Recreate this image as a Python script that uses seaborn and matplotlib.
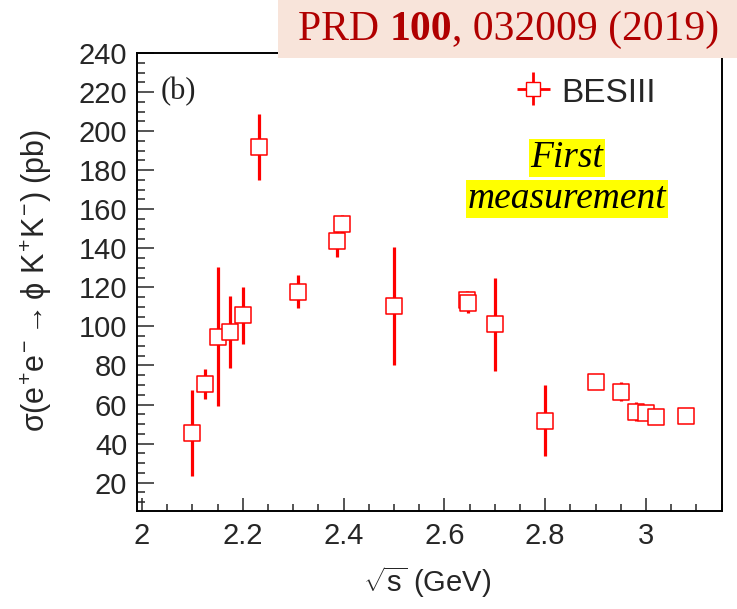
import numpy as np
import pandas as pd
import matplotlib
matplotlib.use('Agg')
import matplotlib.pyplot as plt
from matplotlib.ticker import MultipleLocator, FuncFormatter
from matplotlib.patches import Rectangle
import seaborn as sns

# -------------------------------------------------------------
# Data (sqrt(s) in GeV, cross section in pb)
# -------------------------------------------------------------
energy = [2.1000, 2.1250, 2.1500, 2.1750, 2.2000, 2.2324, 2.3094, 2.3864,
          2.3960, 2.5000, 2.6444, 2.6464, 2.7000, 2.8000, 2.9000, 2.9500,
          2.9810, 3.0000, 3.0200, 3.0800]
sigma = [45.3, 70.5, 94.8, 97.3, 105.7, 191.9, 117.8, 143.9,
         152.6, 110.5, 113.5, 112.0, 101.1, 51.8, 71.4, 66.6,
         56.4, 55.9, 53.8, 54.2]
sigma_err = [21.9, 7.5, 35.6, 18.4, 14.7, 16.9, 8.5, 8.4,
             4.6, 30.1, 4.5, 5.0, 23.9, 18.0, 3.5, 5.0,
             4.8, 3.5, 3.5, 3.0]

df = pd.DataFrame({"energy": energy, "sigma": sigma, "err": sigma_err})

RED = "#ff0000"

sns.set_theme(style="ticks")
plt.rcParams['font.family'] = ['Liberation Sans', 'DejaVu Sans']
plt.rcParams['mathtext.fontset'] = 'custom'
plt.rcParams['mathtext.rm'] = 'Liberation Sans'
plt.rcParams['mathtext.it'] = 'Liberation Sans'
plt.rcParams['mathtext.bf'] = 'Liberation Sans:bold'

fig = plt.figure(figsize=(7.37, 6.09), dpi=100)
ax = fig.add_axes([0.1859, 0.1609, 0.7938, 0.7521])

# error bars first, squares on top
ax.errorbar(df["energy"], df["sigma"], yerr=df["err"], fmt='none',
            ecolor=RED, elinewidth=2.3, capsize=0, zorder=2)
sns.scatterplot(data=df, x="energy", y="sigma", ax=ax, marker='s', s=140,
                facecolor='white', edgecolor=RED, linewidth=1.1, zorder=3,
                legend=False)

# legend entry in the ROOT "lep" style
h = ax.errorbar([np.nan], [np.nan], xerr=[1], yerr=[1], fmt='s', color=RED,
                mfc='white', mec=RED, ms=10, mew=1.0, elinewidth=2.0, capsize=0)
leg = ax.legend([h], ['BESIII'], frameon=False, fontsize=24, loc='center left',
                bbox_to_anchor=(515 / 737, 1 - 92 / 609), bbox_transform=fig.transFigure,
                borderpad=0, borderaxespad=0, handlelength=1.1, handleheight=1.1,
                handletextpad=0.3)

ax.set_xlim(1.99, 3.151)
ax.set_ylim(5.5, 240)
ax.xaxis.set_major_locator(MultipleLocator(0.2))
ax.xaxis.set_minor_locator(MultipleLocator(0.05))
ax.yaxis.set_major_locator(MultipleLocator(20))
ax.yaxis.set_minor_locator(MultipleLocator(5))
ax.xaxis.set_major_formatter(FuncFormatter(lambda v, p: f"{v:g}"))
ax.tick_params(axis='x', which='major', direction='in', length=9.5, width=1.1,
               labelsize=21, pad=8, top=False)
ax.tick_params(axis='x', which='minor', direction='in', length=5, width=1.1, top=False)
ax.tick_params(axis='y', which='major', direction='in', length=12, width=1.1,
               labelsize=21, pad=7, right=False)
ax.tick_params(axis='y', which='minor', direction='in', length=6, width=1.1, right=False)
for sp in ax.spines.values():
    sp.set_linewidth(1.4)
    sp.set_color('black')

ax.set_xlabel(r'$\sqrt{s}$ (GeV)', fontsize=21)
ax.set_ylabel(r'$\sigma(e^{+}e^{-} \rightarrow \phi\ K^{+}K^{-})$ (pb)', fontsize=22)
ax.xaxis.set_label_coords(0.496, -0.117)
ax.yaxis.set_label_coords(-0.142, 0.504)

ax.text(0.04, 0.915, '(b)', transform=ax.transAxes, fontsize=22,
        family='Liberation Serif', ha='left', va='center', color='#222222')

# "First measurement" tag
for txt, yy in [('First', 158), ('measurement', 199)]:
    fig.text(567 / 737, 1 - yy / 609, txt, fontsize=27, family='Liberation Serif',
             style='italic', ha='center', va='center', color='black',
             bbox=dict(boxstyle='square,pad=0.05', facecolor='#ffff00', edgecolor='none'))

# reference banner on top right
fig.patches.append(Rectangle((278 / 737, 1 - 58 / 609), 1 - 278 / 737, 58 / 609,
                             transform=fig.transFigure, facecolor='#f8e4da',
                             edgecolor='none', zorder=5))
fig.canvas.draw()
renderer = fig.canvas.get_renderer()
x0 = 298 / 737
for part, wt in [('PRD ', 'normal'), ('100', 'bold'), (', 032009 (2019)', 'normal')]:
    t = fig.text(x0, 1 - 30 / 609, part, fontsize=30, family='Liberation Serif',
                 weight=wt, color='#b00000', ha='left', va='center', zorder=6)
    bb = t.get_window_extent(renderer)
    x0 = bb.x1 / fig.bbox.width

fig.savefig('out.png', dpi=100)
